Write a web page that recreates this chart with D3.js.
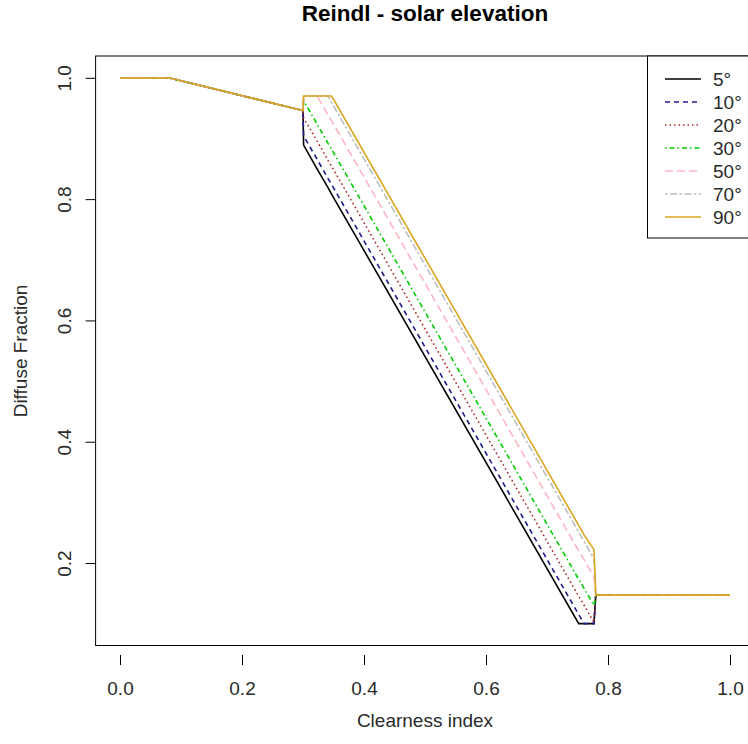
<!DOCTYPE html>
<html>
<head>
<meta charset="utf-8">
<title>Reindl - solar elevation</title>
<script src="https://d3js.org/d3.v7.min.js"></script>
<style>
body { margin: 0; background: #fff; }
svg { display: block; font-family: "Liberation Sans", Arial, sans-serif; }
</style>
</head>
<body>
<svg width="748" height="744"></svg>
<script>
// clearness index breakpoints (shared by all series)
var clearness = [0, 0.08, 0.3, 0.301, 0.323, 0.341, 0.347, 0.752, 0.761, 0.777, 0.78, 1.0];

// diffuse fraction at each breakpoint
var diffuse5  = [1, 1, 0.946, 0.889, 0.850, 0.819, 0.808, 0.100, 0.100, 0.100, 0.147, 0.147];
var diffuse10 = [1, 1, 0.946, 0.904, 0.866, 0.834, 0.824, 0.115, 0.100, 0.100, 0.147, 0.147];
var diffuse20 = [1, 1, 0.946, 0.934, 0.896, 0.864, 0.854, 0.145, 0.130, 0.102, 0.147, 0.147];
var diffuse30 = [1, 1, 0.946, 0.962, 0.924, 0.892, 0.882, 0.173, 0.158, 0.130, 0.147, 0.147];
var diffuse50 = [1, 1, 0.946, 0.970, 0.970, 0.939, 0.929, 0.220, 0.205, 0.177, 0.147, 0.147];
var diffuse70 = [1, 1, 0.946, 0.970, 0.970, 0.970, 0.959, 0.251, 0.235, 0.207, 0.147, 0.147];
var diffuse90 = [1, 1, 0.946, 0.970, 0.970, 0.970, 0.970, 0.262, 0.246, 0.222, 0.147, 0.147];

var elevations = ["5°", "10°", "20°", "30°", "50°", "70°", "90°"];
var xTicks = [0, 0.2, 0.4, 0.6, 0.8, 1.0];
var yTicks = [0.2, 0.4, 0.6, 0.8, 1.0];

var seriesValues = [diffuse5, diffuse10, diffuse20, diffuse30, diffuse50, diffuse70, diffuse90];

// styles (R colours + lty)
var colors = ["#000000", "#1c1c8e", "#b22222", "#00cd00", "#ffb6c1", "#bebebe", "#daa520"];
var dashes = [null, "5,4", "1.5,3", "1.5,3,5,3", "8,4", "2.5,2.5,7,2.5", null];
var fontFam = "Liberation Sans, Arial, sans-serif";
var textCol = "#2a2a2a";

var svg = d3.select("svg");
svg.append("rect").attr("width", 748).attr("height", 744).attr("fill", "#fff");

var x = d3.scaleLinear().domain([-0.04, 1.04]).range([95.6, 754.4]);
var y = d3.scaleLinear().domain([0.064, 1.036]).range([645.5, 56]);

// box
svg.append("rect")
  .attr("x", 95.6).attr("y", 56)
  .attr("width", 754.4 - 95.6).attr("height", 645.5 - 56)
  .attr("fill", "none").attr("stroke", "#000").attr("stroke-width", 1);

// x axis
var xAxis = svg.append("g")
  .attr("transform", "translate(0,655)")
  .call(d3.axisBottom(x).tickValues(xTicks).tickFormat(d3.format(".1f")).tickSize(10).tickSizeOuter(0).tickPadding(17));
xAxis.select(".domain").remove();
xAxis.selectAll("text").attr("font-size", "19px").attr("font-family", fontFam).attr("fill", textCol);

// y axis
var yAxis = svg.append("g")
  .attr("transform", "translate(95.6,0)")
  .call(d3.axisLeft(y).tickValues(yTicks).tickFormat(d3.format(".1f")).tickSize(10).tickSizeOuter(0));
yAxis.select(".domain").remove();
yAxis.selectAll("text")
  .attr("font-size", "19px").attr("font-family", fontFam).attr("fill", textCol)
  .attr("x", null).attr("dy", null)
  .attr("text-anchor", "middle")
  .attr("transform", "translate(-24.5,0) rotate(-90)");

// lines
var line = d3.line()
  .x(function(d) { return x(d[0]); })
  .y(function(d) { return y(d[1]); });

seriesValues.forEach(function(vals, i) {
  var pts = clearness.map(function(k, j) { return [k, vals[j]]; });
  svg.append("path")
    .attr("d", line(pts))
    .attr("fill", "none")
    .attr("stroke", colors[i])
    .attr("stroke-width", 1.6)
    .attr("stroke-dasharray", dashes[i]);
});

// titles
svg.append("text")
  .attr("x", 425).attr("y", 21)
  .attr("text-anchor", "middle")
  .attr("font-size", "22.5px").attr("font-weight", "bold")
  .text("Reindl - solar elevation");

svg.append("text")
  .attr("x", 425).attr("y", 727)
  .attr("text-anchor", "middle")
  .attr("font-size", "19px").attr("fill", textCol)
  .text("Clearness index");

svg.append("text")
  .attr("transform", "translate(27,351) rotate(-90)")
  .attr("text-anchor", "middle")
  .attr("font-size", "19px").attr("fill", textCol)
  .text("Diffuse Fraction");

// legend
var legend = svg.append("g");
legend.append("rect")
  .attr("x", 647.5).attr("y", 56)
  .attr("width", 110).attr("height", 182)
  .attr("fill", "#fff").attr("stroke", "#000");

elevations.forEach(function(lab, i) {
  var ly = 79 + i * 23;
  legend.append("line")
    .attr("x1", 665).attr("x2", 701)
    .attr("y1", ly).attr("y2", ly)
    .attr("stroke", colors[i])
    .attr("stroke-width", 1.4)
    .attr("stroke-dasharray", dashes[i]);
  legend.append("text")
    .attr("x", 713).attr("y", ly + 7)
    .attr("font-size", "19px").attr("fill", textCol)
    .text(lab);
});
</script>
</body>
</html>
